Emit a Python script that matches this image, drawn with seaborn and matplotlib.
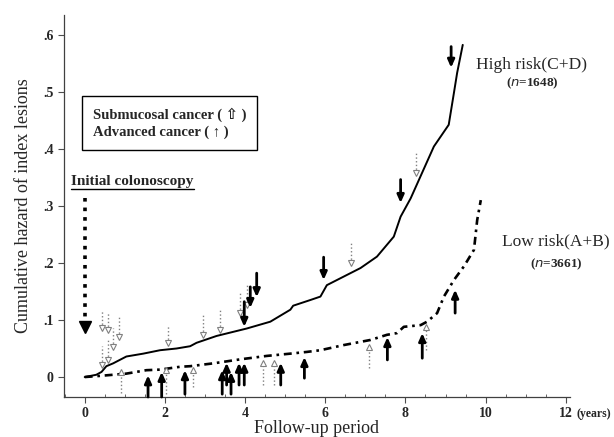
import matplotlib
matplotlib.use("Agg")
import matplotlib.pyplot as plt
import seaborn as sns
from matplotlib.lines import Line2D

# cumulative hazard curves (years, hazard)
high_x = [0, 0.29, 0.42, 0.54, 0.71, 1.04, 1.46, 1.88, 2.29, 2.63, 2.79, 3.29, 4.04, 4.63,
          5.13, 5.2, 5.63, 5.88, 6.04, 6.46, 6.88, 7.29, 7.71, 7.88, 8.13, 8.71, 9.08, 9.21,
          9.29, 9.43]
high_y = [0, 0.004, 0.009, 0.019, 0.024, 0.036, 0.041, 0.047, 0.05, 0.054, 0.06, 0.072, 0.085,
          0.097, 0.118, 0.125, 0.135, 0.141, 0.161, 0.176, 0.191, 0.211, 0.246, 0.281, 0.313,
          0.404, 0.442, 0.498, 0.533, 0.582]
low_x = [0, 0.375, 0.71, 1.04, 1.54, 1.88, 2.38, 2.63, 3.21, 3.88, 4.54, 5.13, 5.54, 5.88,
         6.46, 7.13, 7.54, 7.79, 7.96, 8.38, 8.54, 8.79, 8.96, 9.21, 9.46, 9.71, 9.79, 9.88]
low_y = [0, 0.002, 0.004, 0.006, 0.012, 0.013, 0.018, 0.019, 0.024, 0.031, 0.037, 0.041, 0.044,
         0.047, 0.056, 0.065, 0.074, 0.077, 0.088, 0.091, 0.097, 0.112, 0.141, 0.17, 0.194,
         0.223, 0.275, 0.31]

# cancer events, high risk group (arrows pointing down): x, tail, tip
sub_high_x = [0.42, 0.42, 0.57, 0.57, 0.71, 0.85, 2.08, 2.96, 3.38, 3.88, 4.04, 6.65, 8.27]
sub_high_tail = [0.117, 0.054, 0.114, 0.065, 0.086, 0.105, 0.091, 0.109, 0.117, 0.147, 0.161, 0.237, 0.393]
sub_high_tip = [0.086, 0.021, 0.082, 0.030, 0.053, 0.070, 0.060, 0.074, 0.082, 0.112, 0.126, 0.200, 0.358]
adv_high_x = [3.98, 4.13, 4.29, 5.96, 7.88, 9.14]
adv_high_tail = [0.132, 0.158, 0.182, 0.210, 0.346, 0.579]
adv_high_tip = [0.088, 0.121, 0.140, 0.170, 0.305, 0.542]

# cancer events, low risk group (arrows pointing up)
sub_low_x = [0.90, 2.04, 2.70, 4.44, 4.73, 7.10, 8.52]
sub_low_tail = [-0.028, -0.030, -0.018, -0.014, -0.014, 0.016, 0.047]
sub_low_tip = [0.009, 0.012, 0.012, 0.025, 0.025, 0.053, 0.088]
adv_low_x = [1.58, 1.92, 2.50, 3.43, 3.54, 3.65, 3.85, 3.98, 4.89, 5.48, 7.55, 8.42, 9.24]
adv_low_tail = [-0.035, -0.035, -0.030, -0.030, -0.014, -0.030, -0.014, -0.014, -0.014, -0.002, 0.030, 0.033, 0.112]
adv_low_tip = [0.003, 0.009, 0.012, 0.012, 0.025, 0.009, 0.025, 0.025, 0.025, 0.035, 0.070, 0.077, 0.153]

x_ticks = [0, 2, 4, 6, 8, 10, 12]
y_ticks = [0, 0.1, 0.2, 0.3, 0.4, 0.5, 0.6]
y_ticklabels = ["0", ".1", ".2", ".3", ".4", ".5", ".6"]

sns.set_style("ticks")
plt.rcParams["font.family"] = ["Liberation Serif", "DejaVu Sans"]

fig = plt.figure(figsize=(6.14, 4.37), dpi=100)
ax = fig.add_axes([0.104, 0.0915, 0.824, 0.875])

sns.lineplot(x=high_x, y=high_y, ax=ax, color="black", lw=1.4, sort=False, estimator=None)
sns.lineplot(x=low_x, y=low_y, ax=ax, color="black", lw=1.9, sort=False, estimator=None,
             linestyle=(0, (3, 1.8, 1, 1.8)))

# submucosal (open, dotted) arrows
grey = "0.5"
ax.vlines(sub_high_x, sub_high_tip, sub_high_tail, colors=grey, linestyles=":", lw=1.0)
ax.plot(sub_high_x, sub_high_tip, ls="none", marker="v", ms=4.5, mfc="white", mec=grey, mew=0.8)
ax.vlines(sub_low_x, sub_low_tail, sub_low_tip, colors=grey, linestyles=":", lw=1.0)
ax.plot(sub_low_x, sub_low_tip, ls="none", marker="^", ms=4.5, mfc="white", mec=grey, mew=0.8)

# advanced (solid) arrows
aprops = dict(arrowstyle="-|>,head_length=0.45,head_width=0.2", color="black", lw=2.0,
              shrinkA=0, shrinkB=0)
for x, t0, t1 in zip(adv_high_x, adv_high_tail, adv_high_tip):
    ax.annotate("", xy=(x, t1), xytext=(x, t0), arrowprops=aprops)
for x, t0, t1 in zip(adv_low_x, adv_low_tail, adv_low_tip):
    ax.annotate("", xy=(x, t1), xytext=(x, t0), arrowprops=aprops)

# initial colonoscopy marker
ax.vlines([0], 0.09, 0.318, colors="black", linestyles=":", lw=2.6)
ax.plot([0], [0.088], marker="v", ms=8, color="black", ls="none")
init_txt = ax.text(-0.33, 0.342, "Initial colonoscopy", fontsize=11, fontweight="bold",
                   ha="left", va="center")

ax.text(0.2, 0.445, "Submucosal cancer ( ⇧ )\nAdvanced cancer ( ↑ )", fontsize=10.5,
        fontweight="bold", ha="left", va="center", linespacing=1.35,
        bbox=dict(boxstyle="square,pad=0.75", fc="white", ec="black", lw=1.0))

ax.text(11.15, 0.547, "High risk(C+D)", fontsize=12.5, ha="center", va="center", clip_on=False)
ax.text(11.17, 0.514, "($n$=1648)", fontsize=9.5, fontweight="bold", ha="center", va="center",
        clip_on=False)
ax.text(11.75, 0.237, "Low risk(A+B)", fontsize=12.5, ha="center", va="center", clip_on=False)
ax.text(11.77, 0.197, "($n$=3661)", fontsize=9.5, fontweight="bold", ha="center", va="center",
        clip_on=False)

ax.set_xlim(-0.52, 12.1)
ax.set_ylim(-0.035, 0.635)
ax.set_xticks(x_ticks)
ax.set_xticklabels([str(t) for t in x_ticks], fontsize=10, fontweight="bold")
ax.set_yticks(y_ticks)
ax.set_yticklabels(y_ticklabels, fontsize=10, fontweight="bold")
ax.set_xticks([v / 2 for v in range(-1, 25)], minor=True)
ax.tick_params(axis="both", which="major", direction="out", length=4, width=0.8, color="0.3")
ax.tick_params(axis="x", which="minor", direction="in", length=2.5, width=0.6, color="0.3")

ax.set_xlabel("Follow-up period", fontsize=13, labelpad=0)
ax.set_ylabel("Cumulative hazard of index lesions", fontsize=13, labelpad=8)
sns.despine(ax=ax)
for s in ["left", "bottom"]:
    ax.spines[s].set_linewidth(0.9)
    ax.spines[s].set_color("0.25")

fig.canvas.draw()
# underline for the "Initial colonoscopy" label
bb = init_txt.get_window_extent()
fig.add_artist(Line2D([bb.x0, bb.x1], [bb.y0 - 1, bb.y0 - 1], transform=None,
                      color="black", lw=1.0))
# unit next to the last x tick label
lb = ax.get_xticklabels()[-1].get_window_extent()
fig.text((lb.x1 + 4) / fig.bbox.width, (lb.y0 + lb.y1) / 2 / fig.bbox.height, "(years)",
         fontsize=8.5, fontweight="bold", ha="left", va="center")

fig.savefig("out.png", dpi=100)
